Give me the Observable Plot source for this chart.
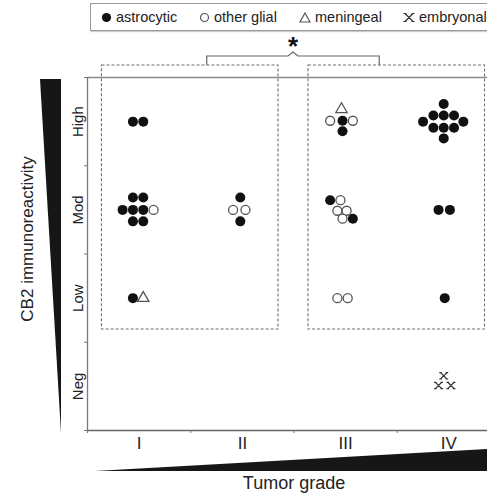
<!DOCTYPE html>
<html><head><meta charset="utf-8">
<script src="https://cdn.jsdelivr.net/npm/d3@7"></script>
<script src="https://cdn.jsdelivr.net/npm/@observablehq/plot@0.6"></script>
<style>
body{margin:0;overflow:hidden;background:#fff;font-family:"Liberation Sans",Arial,sans-serif;}
#wrap{position:relative;width:487px;height:493px;overflow:hidden;}
#legend{position:absolute;left:0;top:0;height:33px;width:487px;overflow:hidden;z-index:2;}
#legend .box{position:absolute;left:90px;top:3px;height:26px;width:440px;border:1px solid #999;box-shadow:1px 1px 1px #ccc;font-size:14.5px;color:#222;background:#fff;}
#legend .item{position:absolute;top:0;height:26px;display:flex;align-items:center;white-space:nowrap;}
#legend svg{margin-right:4px;}
</style></head><body>
<div id="wrap">
<div id="chart"></div>
<div id="legend"><div class="box"></div></div>
</div>
<script>
// ---- data ----
const grades = ["I", "II", "III", "IV"];
const levels = ["Neg", "Low", "Mod", "High"];
const types = ["astrocytic", "other glial", "meningeal", "embryonal"];
// each tumour: [grade position, CB2 score position] (jittered; 1 = I / Neg)
const astrocytic = [
  [0.94,4.0],[1.04,4.0],
  [0.94,3.14],[1.04,3.14],[0.84,3.0],[0.94,3.0],[1.04,3.0],[0.94,2.87],[1.04,2.87],
  [0.94,2.0],
  [1.98,3.14],[1.98,2.87],
  [2.97,4.01],[2.97,3.89],
  [2.85,3.11],[3.07,2.90],
  [3.95,4.2],[3.85,4.07],[3.95,4.07],[4.05,4.07],[3.75,4.0],[4.14,4.0],[3.85,3.93],[3.95,3.93],[4.05,3.93],[3.95,3.81],
  [3.90,3.0],[4.01,3.0],
  [3.96,2.0]
];
const otherGlial = [
  [1.14,3.0],
  [1.91,3.0],[2.03,3.0],
  [2.85,4.01],[3.07,4.01],
  [2.95,3.11],[2.92,2.99],[3.01,2.99],[2.97,2.90],
  [2.92,2.0],[3.02,2.0]
];
const meningeal = [[1.04,2.0],[2.96,4.14]];
const embryonal = [[3.95,1.12],[3.90,1.01],[4.02,1.01]];
// grouped comparison (grades I-II vs III-IV, scores Low-High), significant
const groups = [{from: 1, to: 2}, {from: 3, to: 4}];
const groupLevels = {from: 2, to: 4};
const significance = "*";

// ---- build table ----
const rows = [];
[[astrocytic, types[0]], [otherGlial, types[1]], [meningeal, types[2]], [embryonal, types[3]]]
  .forEach(([arr, t]) => arr.forEach(([g, s]) => rows.push({grade: g, score: s, type: t})));
const byType = t => rows.filter(d => d.type === t);

const font = "Liberation Sans, Arial, sans-serif";
const serifX = {
  draw(ctx, size) {
    const a = Math.sqrt(size / Math.PI) * 0.8, s = a * 0.4;
    ctx.moveTo(-a, -a); ctx.lineTo(a, a);
    ctx.moveTo(-a, a); ctx.lineTo(a, -a);
    ctx.moveTo(-a - s, -a); ctx.lineTo(-a + s, -a);
    ctx.moveTo(a - s, -a); ctx.lineTo(a + s, -a);
    ctx.moveTo(-a - s, a); ctx.lineTo(-a + s, a);
    ctx.moveTo(a - s, a); ctx.lineTo(a + s, a);
  }
};

const dom = [0.5, 4.5];
const bounds = d3.range(dom[0], dom[1] + 0.01, 1);
const centers = d3.range(1, grades.length + 1);

const plot = Plot.plot({
  width: 487, height: 493,
  marginTop: 77, marginLeft: 87, marginRight: -13, marginBottom: 63,
  x: {domain: dom, axis: null},
  y: {domain: dom, axis: null},
  style: {fontFamily: font, background: "#fff", color: "#222"},
  marks: [
    Plot.rect(groups, {
      x1: d => d.from - 0.36, x2: d => d.to + 0.35,
      y1: groupLevels.from - 0.356, y2: groupLevels.to + 0.636,
      fill: "none", stroke: "#6e6e6e", strokeWidth: 1.1, strokeDasharray: "3,2"
    }),
    Plot.ruleY([dom[1]], {stroke: "#8a8a8a", strokeWidth: 1.4}),
    Plot.ruleX([dom[0]], {stroke: "#7a7a7a", strokeWidth: 1.3}),
    Plot.ruleY([dom[0]], {stroke: "#666", strokeWidth: 1.5}),
    Plot.axisX(bounds, {tickSize: 3, tickFormat: () => "", stroke: "#777", label: null}),
    Plot.axisX(centers, {tickSize: 0, tickPadding: 6, tickFormat: d => grades[d - 1], fontSize: 17, fill: "#222", label: null}),
    Plot.axisY(bounds, {tickSize: 3, tickFormat: () => "", stroke: "#777", label: null}),
    Plot.text(levels, {y: (d, i) => i + 1, frameAnchor: "left", rotate: -90, dx: -9, fontSize: 15, fill: "#222", textAnchor: "middle"}),
    Plot.text(["CB2 immunoreactivity"], {frameAnchor: "left", rotate: -90, dx: -60, dy: -15, fontSize: 17, fill: "#222", textAnchor: "middle"}),
    Plot.text(["Tumor grade"], {frameAnchor: "bottom", dy: 58, fontSize: 18, fill: "#222", textAnchor: "middle"}),
    Plot.dot(byType(types[0]), {x: "grade", y: "score", r: 5, fill: "#111"}),
    Plot.dot(byType(types[1]), {x: "grade", y: "score", r: 4.5, fill: "#fff", stroke: "#555", strokeWidth: 1.3}),
    Plot.dot(byType(types[2]), {x: "grade", y: "score", r: 4.2, symbol: "triangle", fill: "#fff", stroke: "#555", strokeWidth: 1.3}),
    Plot.dot(byType(types[3]), {x: "grade", y: "score", r: 4, symbol: serifX, fill: "none", stroke: "#333", strokeWidth: 1.2})
  ]
});

// decorations: wedges, bracket, significance
const svg = d3.select(plot);
const sx = plot.scale("x"), sy = plot.scale("y");
const L = sx.apply(dom[0]), R = sx.apply(dom[1]), T = sy.apply(dom[1]), B = sy.apply(dom[0]);
svg.append("polygon").attr("fill", "#161616")
  .attr("points", [[L - 47, T + 2], [L - 26, T + 2], [L - 26, B + 3]].join(" "));
svg.append("polygon").attr("fill", "#161616")
  .attr("points", [[L + 8, B + 41], [R, B + 18.3], [R, B + 41]].join(" "));
const boxTop = sy.apply(groupLevels.to + 0.636);
const c1 = (sx.apply(groups[0].from - 0.36) + sx.apply(groups[0].to + 0.35)) / 2 + 17;
const c2 = (sx.apply(groups[1].from - 0.36) + sx.apply(groups[1].to + 0.35)) / 2 - 17;
const mid = (c1 + c2) / 2, by = boxTop - 9;
svg.append("path").attr("fill", "none").attr("stroke", "#666").attr("stroke-width", 1.2)
  .attr("d", `M${c1},${boxTop}V${by}H${mid - 5}L${mid},${by - 4}L${mid + 5},${by}H${c2}V${boxTop}`);
svg.append("text").attr("x", mid).attr("y", by - 15).attr("text-anchor", "middle")
  .attr("font-size", 26).attr("font-weight", "bold").attr("font-family", font).attr("fill", "#111")
  .attr("dy", "0.55em").text(significance);

document.getElementById("chart").append(plot);

// legend
const box = document.querySelector("#legend .box");
const legendX = [10, 108, 208, 312];
const icon = t => {
  if (t === types[0]) return '<svg width="11" height="11"><circle cx="5.5" cy="5.5" r="4.6" fill="#111"/></svg>';
  if (t === types[1]) return '<svg width="11" height="11"><circle cx="5.5" cy="5.5" r="4" fill="#fff" stroke="#555" stroke-width="1.2"/></svg>';
  if (t === types[2]) return '<svg width="12" height="11"><path d="M6,1L11,10H1Z" fill="#fff" stroke="#555" stroke-width="1.2"/></svg>';
  return '<svg width="12" height="11"><path d="M2,1.5L10,9.5M2,9.5L10,1.5M0.5,1.5H3.5M8.5,1.5H11.5M0.5,9.5H3.5M8.5,9.5H11.5" stroke="#333" stroke-width="1.2"/></svg>';
};
types.forEach((t, i) => {
  const el = document.createElement("div");
  el.className = "item";
  el.style.left = legendX[i] + "px";
  el.innerHTML = icon(t) + "<span>" + t + "</span>";
  box.append(el);
});
</script>
</body></html>
